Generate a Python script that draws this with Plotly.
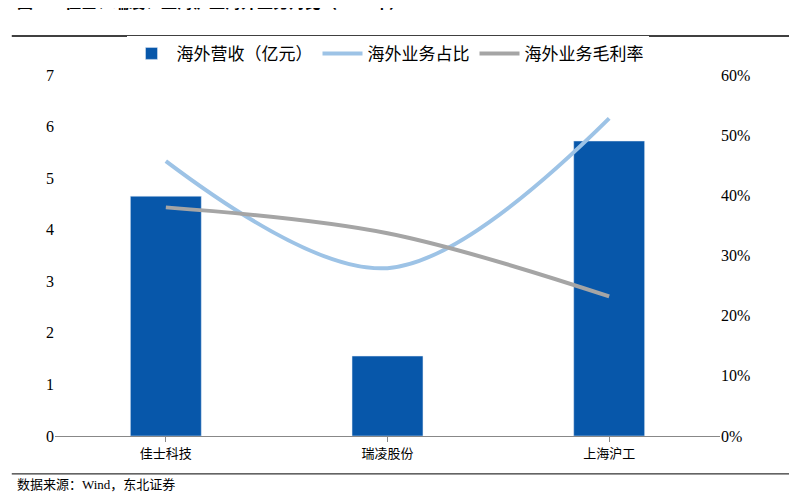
import plotly.graph_objects as go

companies = ['佳士科技', '瑞凌股份', '上海沪工']
overseas_rev = [4.65, 1.55, 5.72]
overseas_share = [0.457, 0.279, 0.528]
overseas_margin = [0.380, 0.337, 0.232]

font_fam = 'Liberation Serif, Noto Sans CJK SC'

fig = go.Figure()
fig.add_trace(go.Bar(x=companies, y=overseas_rev, name='海外营收（亿元）',
                     marker_color='#0757AA', width=0.32))
fig.add_trace(go.Scatter(x=companies, y=overseas_share, name='海外业务占比', yaxis='y2',
                         mode='lines', line=dict(color='#9DC3E6', width=4, shape='spline')))
fig.add_trace(go.Scatter(x=companies, y=overseas_margin, name='海外业务毛利率', yaxis='y2',
                         mode='lines', line=dict(color='#A5A5A5', width=4, shape='spline')))

fig.update_layout(
    width=797, height=493,
    paper_bgcolor='white', plot_bgcolor='white',
    font=dict(family=font_fam, size=15, color='black'),
    margin=dict(l=47, r=85, t=67, b=65, autoexpand=False),
    showlegend=True,
    legend=dict(orientation='h', x=0.5, xanchor='center', yref='container', y=0.907,
                yanchor='middle', font=dict(size=17), itemwidth=40),
    xaxis=dict(showline=True, linecolor='#888', ticks='outside', tickcolor='#888',
               tickfont=dict(size=13)),
    yaxis=dict(range=[0, 7], dtick=1, showgrid=False, zeroline=False,
               tickfont=dict(size=16)),
    yaxis2=dict(range=[0, 0.6], dtick=0.1, tickformat='.0%', overlaying='y', side='right',
                showgrid=False, zeroline=False, tickfont=dict(size=16)),
    annotations=[
        dict(text='<b>图41：佳士、瑞凌、上海沪工海外业务对比（2020 年）</b>', xref='paper', yref='paper',
             x=-0.06, y=1.202, xanchor='left', yanchor='middle', showarrow=False, font=dict(size=16)),
        dict(text='数据来源：Wind，东北证券', xref='paper', yref='paper',
             x=-0.06, y=-0.133, xanchor='left', yanchor='middle', showarrow=False, font=dict(size=13)),
    ],
    shapes=[
        dict(type='line', xref='paper', yref='paper', x0=-0.065, x1=1.12, y0=1.108, y1=1.108,
             line=dict(color='black', width=1.5)),
        dict(type='line', xref='paper', yref='paper', x0=-0.065, x1=1.12, y0=-0.105, y1=-0.105,
             line=dict(color='black', width=1)),
    ],
)

fig.write_html('out.html')
